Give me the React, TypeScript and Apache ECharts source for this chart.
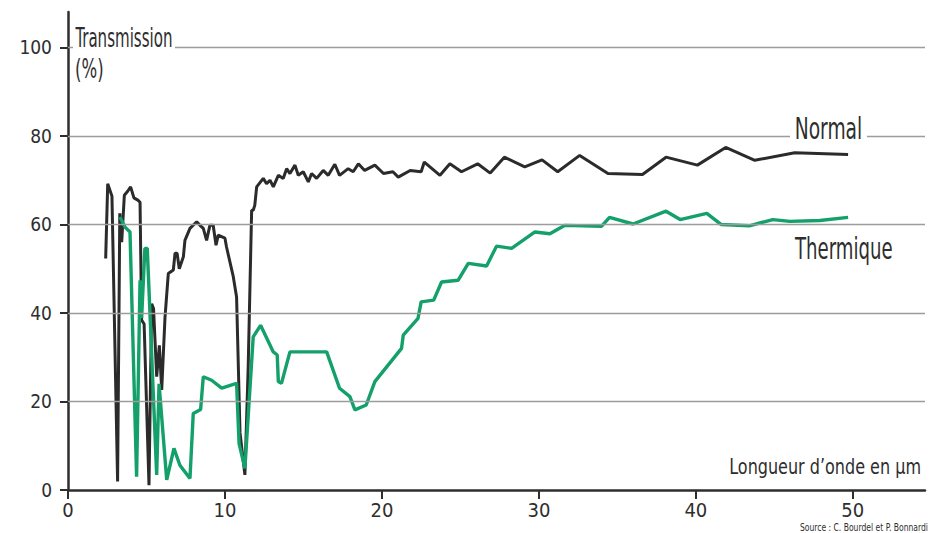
import React, { useEffect, useRef } from 'react';
import * as echarts from 'echarts';

const normalX = [2.4, 2.53, 2.8, 3.16, 3.3, 3.42, 3.59, 3.8, 3.99, 4.2, 4.45, 4.59, 4.69, 4.85, 5.16, 5.33, 5.45, 5.65, 5.82, 5.97, 6.18, 6.39, 6.71, 6.82, 6.95, 7.09, 7.35, 7.45, 7.77, 8.2, 8.41, 8.62, 8.83, 9.04, 9.25, 9.43, 9.57, 10.0, 10.1, 10.53, 10.74, 10.96, 11.27, 11.48, 11.7, 11.8, 11.9, 12.02, 12.44, 12.65, 12.87, 13.08, 13.4, 13.71, 13.93, 14.14, 14.46, 14.67, 14.99, 15.31, 15.52, 15.84, 16.26, 16.58, 17.0, 17.3, 17.85, 18.17, 18.5, 18.9, 19.55, 20.1, 20.7, 21.04, 21.8, 22.5, 22.7, 23.7, 24.33, 25.07, 26.1, 26.9, 27.8, 29.1, 30.2, 31.2, 32.6, 34.4, 36.6, 38.1, 40.1, 41.9, 43.76, 46.3, 49.7];
const normalY = [52.3, 69.2, 66.4, 1.9, 62.5, 56, 66.6, 67.5, 68.5, 66, 65.5, 65, 38.4, 37.5, 1.1, 42.1, 41, 25.6, 32.7, 22.6, 39, 48.9, 49.7, 53.5, 53.5, 50, 52.7, 56.4, 59.1, 60.6, 59.8, 59.1, 56.4, 59.8, 59.8, 55.3, 57.6, 56.9, 54.9, 48.2, 43.6, 12.9, 3.4, 27.8, 63.2, 63.2, 64.3, 68.5, 70.4, 69.2, 70.0, 68.5, 71.1, 70.4, 72.6, 71.5, 73.4, 71.1, 71.9, 69.6, 71.5, 70.4, 72.2, 71.1, 73.6, 71.1, 72.6, 71.9, 73.7, 72.2, 73.4, 71.5, 71.9, 70.7, 72.2, 71.9, 74.1, 71.1, 73.7, 71.9, 73.7, 71.6, 75.2, 73.0, 74.6, 71.9, 75.6, 71.5, 71.3, 75.2, 73.4, 77.4, 74.5, 76.2, 75.8];

const thermX = [3.31, 3.63, 3.95, 4.37, 4.59, 4.69, 4.9, 5.05, 5.65, 5.8, 6.29, 6.75, 7.13, 7.77, 7.98, 8.45, 8.62, 9.15, 9.79, 10.74, 10.9, 11.27, 11.8, 12.27, 13.08, 13.33, 13.4, 13.6, 14.14, 16.48, 17.3, 17.96, 18.28, 19.0, 19.55, 21.25, 21.36, 22.3, 22.5, 23.3, 23.8, 24.86, 25.5, 26.67, 27.3, 28.26, 29.75, 30.7, 31.66, 34.0, 34.5, 36.0, 38.1, 39.0, 40.7, 41.6, 43.4, 44.9, 46.0, 47.9, 49.7];
const thermY = [61.7, 59.4, 58.3, 3.0, 47.4, 38.8, 54.6, 54.6, 3.4, 24, 2.3, 9.4, 5.6, 2.6, 17.3, 18.2, 25.6, 24.8, 23.0, 24.1, 10.5, 4.9, 34.6, 37.2, 31.2, 30.5, 24.5, 24.1, 31.2, 31.2, 23.0, 21.1, 18.1, 19.2, 24.5, 32.0, 35.0, 38.8, 42.5, 42.9, 47.0, 47.4, 51.2, 50.6, 55.1, 54.6, 58.3, 57.9, 59.8, 59.6, 61.6, 60.1, 63, 61.1, 62.5, 60, 59.7, 61.1, 60.7, 60.9, 61.6];

const xTicks = [0, 10, 20, 30, 40, 50];
const yTicks = [0, 20, 40, 60, 80, 100];
const gridValues = [20, 40, 60, 80, 100];

const seriesNames = ['Normal', 'Thermique'];
const yTitle = 'Transmission';
const yUnit = '(%)';
const xTitle = 'Longueur d’onde en µm';
const sourceText = 'Source : C. Bourdel et P. Bonnardi';

const FONT = "'Liberation Sans Narrow', 'DejaVu Sans Condensed', 'Arial Narrow', sans-serif";
const INK = '#2e2e2e';

export default function App() {
  const ref = useRef<HTMLDivElement>(null);
  useEffect(() => {
    document.body.style.margin = '0';
    const chart = echarts.init(ref.current!, null, { renderer: 'svg' });
    const zip = (xs: number[], ys: number[]) => xs.map((x, i) => [x, ys[i]]);
    const axisLineStyle = { color: INK, width: 2.5 };
    chart.setOption({
      animation: false,
      backgroundColor: '#fff',
      grid: { left: 68, right: 7, top: 12, bottom: 43, containLabel: false, outerBoundsMode: 'none' },
      xAxis: {
        type: 'value',
        min: 0,
        max: 54.6,
        axisLine: { show: true, onZero: true, lineStyle: axisLineStyle },
        axisTick: { show: true, customValues: xTicks, length: 9, lineStyle: { color: INK, width: 2 } },
        axisLabel: { customValues: xTicks, fontSize: 20, fontFamily: FONT, color: INK, margin: 10 },
        splitLine: { show: false },
      },
      yAxis: {
        type: 'value',
        min: 0,
        max: 108,
        axisLine: { show: true, lineStyle: axisLineStyle },
        axisTick: { show: true, customValues: yTicks, length: 8, lineStyle: { color: INK, width: 2 } },
        axisLabel: { customValues: yTicks, fontSize: 19, fontFamily: FONT, color: INK, margin: 16 },
        splitLine: { show: false },
      },
      series: [
        {
          type: 'line',
          data: [],
          silent: true,
          markLine: {
            silent: true,
            symbol: ['none', 'none'],
            label: { show: false },
            lineStyle: { color: '#9c9c9c', width: 1.3, type: 'solid' },
            data: gridValues.map((v) => ({ yAxis: v })),
          },
        },
        {
          name: seriesNames[0],
          type: 'line',
          data: zip(normalX, normalY),
          showSymbol: false,
          symbol: 'none',
          lineStyle: { color: '#2b2b2b', width: 3 },
          z: 3,
        },
        {
          name: seriesNames[1],
          type: 'line',
          data: zip(thermX, thermY),
          showSymbol: false,
          symbol: 'none',
          lineStyle: { color: '#14a06a', width: 3.4 },
          z: 4,
        },
      ],
      graphic: [
        {
          type: 'text', x: 73, y: 37, z: 100, scaleX: 0.62,
          style: { text: yTitle, fontSize: 27, fontFamily: FONT, fill: INK, textVerticalAlign: 'middle', backgroundColor: '#fff', padding: [2, 4] },
        },
        {
          type: 'text', x: 75, y: 69, z: 100, scaleX: 0.68,
          style: { text: yUnit, fontSize: 27, fontFamily: FONT, fill: INK, textVerticalAlign: 'middle' },
        },
        {
          type: 'text', x: 790, y: 128, z: 100, scaleX: 0.67,
          style: { text: seriesNames[0], fontSize: 31, fontFamily: FONT, fill: INK, textVerticalAlign: 'middle', backgroundColor: '#fff', padding: [0, 7] },
        },
        {
          type: 'text', x: 795, y: 248, z: 100, scaleX: 0.65,
          style: { text: seriesNames[1], fontSize: 31, fontFamily: FONT, fill: INK, textVerticalAlign: 'middle' },
        },
        {
          type: 'text', x: 921, y: 466, z: 100, scaleX: 0.81,
          style: { text: xTitle, fontSize: 22, fontFamily: FONT, fill: INK, textAlign: 'right', textVerticalAlign: 'middle' },
        },
        {
          type: 'text', x: 928, y: 532, z: 100, scaleX: 0.85,
          style: { text: sourceText, fontSize: 10, fontFamily: FONT, fill: INK, textAlign: 'right', textVerticalAlign: 'bottom' },
        },
      ],
    });
    return () => chart.dispose();
  }, []);
  return <div ref={ref} style={{ width: 932, height: 533, background: '#fff' }} />;
}
